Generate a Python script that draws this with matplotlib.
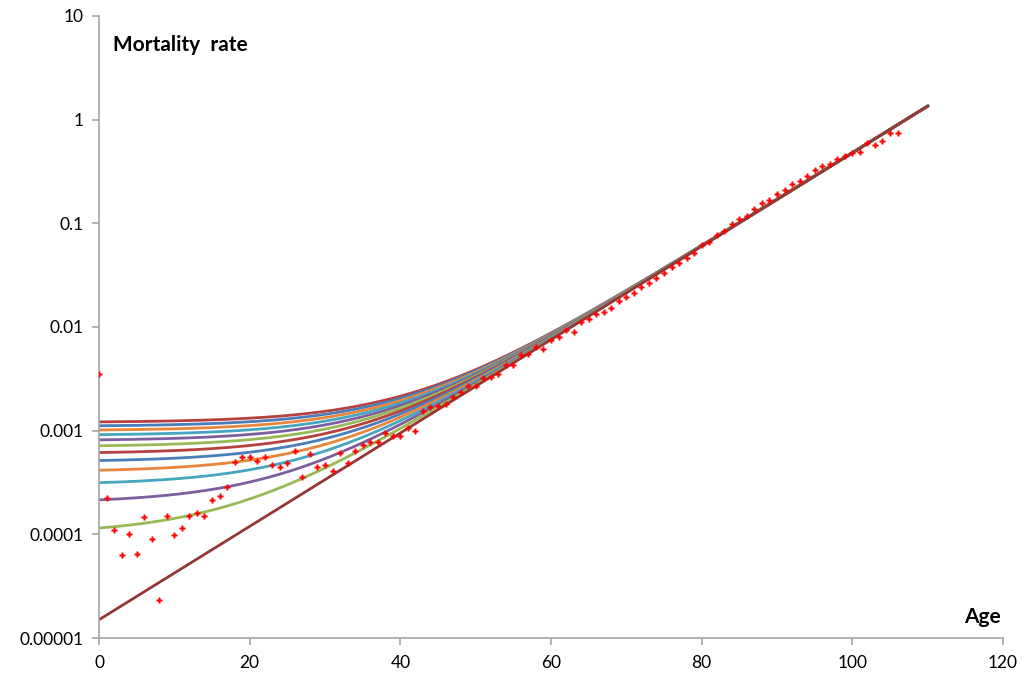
import numpy as np
import matplotlib.pyplot as plt

plt.rcParams['font.family'] = ['Lato', 'DejaVu Sans']

# observed mortality rates by single year of age
ages = list(range(0, 107))
rates = [
    0.0035, 0.000225, 0.000109, 0.000063, 0.0001, 0.000065, 0.000146, 0.0000895, 0.0000234, 0.000149,
    0.0000975, 0.000116, 0.00015, 0.00016, 0.00015, 0.000213, 0.000232, 0.000283, 0.000494, 0.00056,
    0.000552, 0.000506, 0.000556, 0.000466, 0.000442, 0.000483, 0.00063, 0.000359, 0.000591, 0.000442,
    0.000466, 0.00041, 0.000604, 0.00049, 0.00063, 0.000722, 0.000771, 0.00077, 0.000944, 0.000895,
    0.000882, 0.00107, 0.001, 0.00155, 0.0017, 0.00173, 0.00179, 0.00213, 0.00235, 0.00269,
    0.00269, 0.00319, 0.00326, 0.00354, 0.00426, 0.00426, 0.00532, 0.00553, 0.00636, 0.00614,
    0.00743, 0.00802, 0.00929, 0.00896, 0.0111, 0.012, 0.0132, 0.0139, 0.0154, 0.0178,
    0.0194, 0.0214, 0.0244, 0.0267, 0.0299, 0.0334, 0.0379, 0.0417, 0.0466, 0.0521,
    0.0623, 0.066, 0.0767, 0.0851, 0.098, 0.109, 0.118, 0.137, 0.157, 0.169,
    0.191, 0.211, 0.241, 0.257, 0.288, 0.327, 0.36, 0.371, 0.418, 0.449,
    0.474, 0.491, 0.596, 0.566, 0.628, 0.75, 0.75,
]

# Gompertz line: rate at age 0 and at age 110
gomp_start = 0.000015
gomp_end = 1.35
max_age = 110

# Makeham constants added to the Gompertz line (largest first)
makeham_levels = [0.0012, 0.0011, 0.0010, 0.0009, 0.0008, 0.0007,
                  0.0006, 0.0005, 0.0004, 0.0003, 0.0002, 0.0001]
line_colors = ['#B6413E', '#4A7EBB', '#E8863A', '#46A5BF', '#7D5FA0', '#98B954',
               '#B6413E', '#4A7EBB', '#E8863A', '#46A5BF', '#7D5FA0', '#98B954']
gomp_color = '#953735'

fig = plt.figure(figsize=(10.24, 6.77), dpi=100)
ax = fig.add_axes([0.0967, 0.0576, 0.8828, 0.9188])

x = np.linspace(0, max_age, 400)
c = np.log(gomp_end / gomp_start) / max_age
gomp = gomp_start * np.exp(c * x)

for level, col in zip(makeham_levels, line_colors):
    ax.plot(x, level + gomp, color=col, lw=2)
ax.plot(x, gomp, color=gomp_color, lw=2)

ax.plot(ages, rates, linestyle='none', marker='P', ms=5, color='#FF0000', mec='none', zorder=5)

ax.set_yscale('log')
ax.set_ylim(0.00001, 10)
ax.set_xlim(0, 120)
ax.set_xticks(range(0, 121, 20))
yt = [0.00001, 0.0001, 0.001, 0.01, 0.1, 1, 10]
ax.set_yticks(yt)
ax.set_yticklabels(['0.00001', '0.0001', '0.001', '0.01', '0.1', '1', '10'])
ax.yaxis.set_minor_locator(plt.NullLocator())

for s in ['top', 'right']:
    ax.spines[s].set_visible(False)
for s in ['left', 'bottom']:
    ax.spines[s].set_color('#A6A6A6')
    ax.spines[s].set_linewidth(1.2)
ax.tick_params(axis='both', colors='#A6A6A6', length=5, width=1.2, labelsize=12.5, labelcolor='black')
ax.tick_params(axis='x', pad=7)
ax.tick_params(axis='y', pad=6)

ax.text(0.015, 0.953, 'Mortality  rate', transform=ax.transAxes, fontsize=15,
        fontweight='bold', ha='left', va='center')
ax.text(0.998, 0.033, 'Age', transform=ax.transAxes, fontsize=15,
        fontweight='bold', ha='right', va='center')

fig.savefig('out.png', dpi=100)
